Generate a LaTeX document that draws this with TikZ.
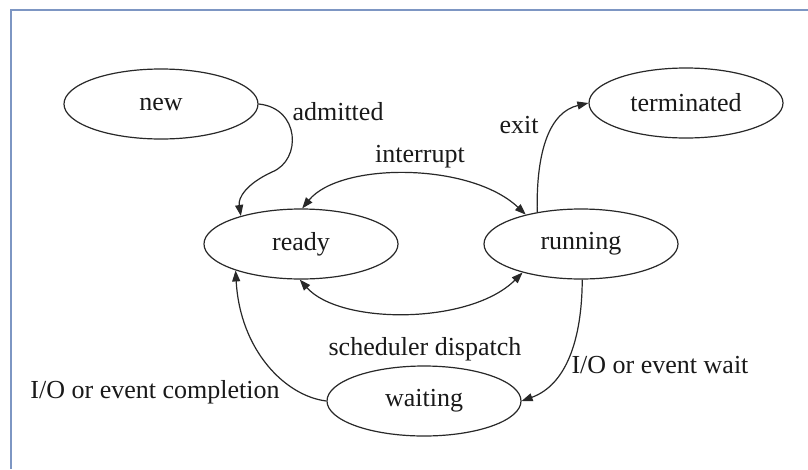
\documentclass[tikz,border=0pt]{standalone}
\usepackage{fontspec}
\setmainfont{Liberation Serif}
\usetikzlibrary{shapes.geometric,arrows.meta}
\definecolor{ink}{RGB}{40,40,40}
\definecolor{txt}{RGB}{25,25,25}
\definecolor{framec}{RGB}{125,150,195}
\tikzset{
  state/.style={draw=ink, line width=1.2pt, ellipse, minimum width=194pt, minimum height=70pt, inner sep=0pt, text=txt, font=\fontsize{26}{30}\selectfont},
  lbl/.style={text=txt, font=\fontsize{26}{30}\selectfont, inner sep=0pt},
  tip/.style={Triangle[length=11pt,width=8pt]},
  edge/.style={draw=ink, line width=1.2pt, -{Triangle[length=11pt,width=8pt]}},
  edgeboth/.style={draw=ink, line width=1.2pt, {Triangle[length=11pt,width=8pt]}-{Triangle[length=11pt,width=8pt]}}
}
\begin{document}
\begin{tikzpicture}[x=1pt,y=-1pt]
\useasboundingbox (0,0) rectangle (808,469);
\fill[white] (0,0) rectangle (808,469);
\coordinate (ftr) at (808,10);
\coordinate (ftl) at (11,10);
\coordinate (fbl) at (11,469);
\draw[framec, line width=2pt] (ftr) -- (ftl) -- (fbl);

\node[state] (new) at (161,104) {new};
\node[state] (term) at (686,103) {terminated};
\node[state] (ready) at (301,244) {ready};
\node[state] (run) at (581,244) {running};
\node[state] (wait) at (424,401) {waiting};

\draw[edge] (new.east) .. controls (300,108) and (302,160) .. (272,172) .. controls (246,184) and (238,198) .. (ready.155);
\draw[edgeboth] (ready.88) .. controls (340,162) and (470,162) .. (run.152);
\draw[edgeboth] (ready.268) .. controls (340,325) and (470,325) .. (run.206);
\draw[edge] (run.144) .. controls (536,150) and (550,112) .. (term.west);
\draw[edge] (run.272) .. controls (582,340) and (566,385) .. (wait.east);
\draw[edge] (wait.west) .. controls (285,396) and (240,350) .. (ready.202);

\node[lbl] (ladm) at (338,112) {admitted};
\node[lbl] (lint) at (420,157) {interrupt};
\node[lbl] (lexit) at (519,125) {exit};
\node[lbl] (lsch) at (425,349) {scheduler dispatch};
\node[lbl] (lwt) at (660,365) {I/O or event wait};
\node[lbl] (lcmp) at (155,392) {I/O or event completion};
\end{tikzpicture}
\end{document}
